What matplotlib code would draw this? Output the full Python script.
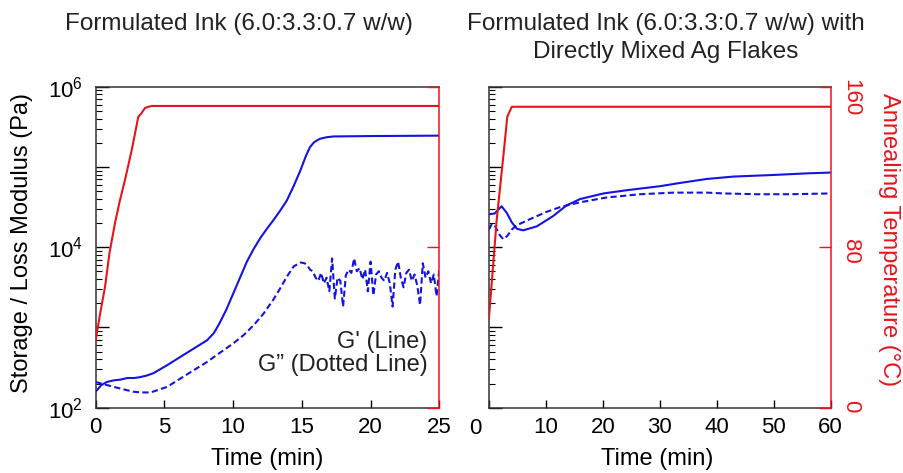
import numpy as np
import matplotlib
matplotlib.use("Agg")
import matplotlib.pyplot as plt
from matplotlib.ticker import LogLocator, FixedLocator, NullFormatter
import matplotlib.transforms as mtransforms

plt.rcParams['font.family'] = ['Liberation Sans', 'DejaVu Sans']
plt.rcParams['mathtext.fontset'] = 'custom'
plt.rcParams['mathtext.rm'] = 'Liberation Sans'

RED = '#e8141c'
BLUE = '#1414e0'

# ---- left panel: formulated ink, 0-25 min ----
t_temp_a = [0.0, 0.3, 0.68, 1.0, 1.4, 1.75, 2.13, 2.62, 3.1, 3.3, 3.6, 4.07, 25.0]
temp_a = [33.7, 46.0, 60.3, 77.0, 91.9, 103.0, 113.5, 128.4, 145.0, 146.5, 149.5,
          150.4, 150.4]

t_g1_a = [0.0, 0.4, 0.8, 1.3, 1.8, 2.3, 2.8, 3.2, 3.7, 4.2, 5.2, 6.6, 8.1, 8.6, 9.0,
          9.5, 10.0, 10.5, 11.0, 11.5, 12.0, 12.5, 12.9, 13.4, 13.9, 14.4, 14.9, 15.3,
          15.6, 15.9, 16.3, 16.8, 17.3, 20.0, 25.0]
g1_a_log = [2.20, 2.28, 2.32, 2.34, 2.35, 2.37, 2.37, 2.38, 2.40, 2.43, 2.53, 2.68,
            2.84, 2.93, 3.05, 3.22, 3.42, 3.62, 3.82, 3.98, 4.12, 4.24, 4.33, 4.45,
            4.58, 4.76, 4.96, 5.14, 5.25, 5.31, 5.35, 5.37, 5.38, 5.385, 5.39]

t_g2_a = [0.0, 1.3, 2.7, 3.3, 4.0, 5.2, 6.6, 8.1, 9.0, 10.0, 10.8, 11.5, 12.2, 12.9,
          13.4, 13.9, 14.4, 14.9,
          15.2, 15.4, 15.6, 15.8, 16.0, 16.2, 16.4, 16.6, 16.8, 17.0, 17.2, 17.4,
          17.6, 17.8, 18.0, 18.2, 18.4, 18.6, 18.8, 19.0, 19.2, 19.4, 19.6, 19.8,
          20.0, 20.2, 20.4, 20.6, 20.8, 21.0, 21.2, 21.4, 21.6, 21.8, 22.0, 22.2,
          22.4, 22.6, 22.8, 23.0, 23.2, 23.4, 23.6, 23.8, 24.0, 24.2, 24.4, 24.6,
          24.8, 25.0]
g2_a_log = [2.32, 2.26, 2.20, 2.19, 2.19, 2.26, 2.41, 2.57, 2.68, 2.80, 2.91, 3.03,
            3.17, 3.34, 3.48, 3.63, 3.76, 3.81,
            3.80, 3.77, 3.72, 3.70, 3.62, 3.58, 3.68, 3.55, 3.62, 3.45, 3.86, 3.36,
            3.62, 3.58, 3.26, 3.65, 3.72, 3.68, 3.86, 3.70, 3.74, 3.60, 3.72, 3.45,
            3.82, 3.40, 3.66, 3.70, 3.62, 3.58, 3.68, 3.55, 3.26, 3.72, 3.82, 3.62,
            3.50, 3.68, 3.72, 3.58, 3.66, 3.52, 3.28, 3.80, 3.62, 3.70, 3.55, 3.66,
            3.39, 3.72]

# ---- right panel: with directly mixed Ag flakes, 0-60 min ----
t_temp_b = [0.0, 1.35, 2.51, 3.21, 4.0, 60.0]
temp_b = [45.0, 93.6, 125.1, 145.0, 150.0, 150.0]

t_g1_b = [0.0, 1.0, 2.2, 3.1, 4.0, 4.9, 6.0, 8.4, 11.3, 13.6, 16.0, 20.1, 24.2,
          30.0, 33.5, 38.2, 42.9, 49.9, 55.8, 60.0]
g1_b_log = [4.41, 4.42, 4.51, 4.43, 4.31, 4.23, 4.21, 4.26, 4.39, 4.52, 4.60, 4.67,
            4.71, 4.76, 4.80, 4.85, 4.88, 4.90, 4.92, 4.93]

t_g2_b = [0.0, 0.5, 1.0, 1.9, 2.5, 3.2, 4.0, 4.8, 7.2, 10.1, 12.5, 16.0, 20.7,
          26.5, 32.4, 38.2, 41.2, 47.0, 52.9, 60.0]
g2_b_log = [4.22, 4.29, 4.27, 4.15, 4.10, 4.14, 4.22, 4.27, 4.35, 4.44, 4.50, 4.56,
            4.62, 4.66, 4.68, 4.68, 4.67, 4.66, 4.66, 4.67]

W, H = 904, 473
fig = plt.figure(figsize=(W / 100, H / 100), dpi=100)


def box(x0, x1, y0, y1):
    return [x0 / W, 1 - y1 / H, (x1 - x0) / W, (y1 - y0) / H]


def setup(ax, tw, xmax, xticks, right_labels):
    ax.set_yscale('log')
    ax.set_ylim(1e2, 1e6)
    ax.set_xlim(0, xmax)
    ax.set_xticks(xticks)
    ax.yaxis.set_major_locator(LogLocator(base=10, numticks=10))
    ax.yaxis.set_minor_locator(LogLocator(base=10, subs=np.arange(2, 10), numticks=20))
    ax.yaxis.set_minor_formatter(NullFormatter())
    ax.tick_params(axis='x', direction='in', length=6, width=1, labelsize=16, pad=7)
    ax.tick_params(axis='y', which='major', direction='in', length=9, width=1,
                   labelsize=16, pad=9)
    ax.tick_params(axis='y', which='minor', direction='in', length=4, width=0.8)
    for s in ax.spines.values():
        s.set_linewidth(1.1)
        s.set_color('#333333')
    ax.spines['right'].set_visible(False)
    tw.set_ylim(0, 160)
    tw.set_yticks([0, 80, 160])
    for k in ['left', 'top', 'bottom']:
        tw.spines[k].set_visible(False)
    tw.spines['right'].set_color(RED)
    tw.spines['right'].set_linewidth(1.1)
    tw.tick_params(axis='y', direction='in', length=9, width=1, color=RED,
                   labelcolor=RED, labelsize=16, labelrotation=-90, pad=7,
                   labelright=right_labels)


# left panel
ax1 = fig.add_axes(box(95.7, 439.3, 86.7, 407.7))
tw1 = ax1.twinx()
setup(ax1, tw1, 25, [0, 5, 10, 15, 20, 25], False)
ax1.yaxis.set_major_locator(FixedLocator([1e2, 1e3, 1e4, 1e5, 1e6]))
ax1.set_yticklabels([r'$\mathregular{10^{2}}$', '', r'$\mathregular{10^{4}}$', '',
                     r'$\mathregular{10^{6}}$'])
ax1.plot(t_g1_a, np.power(10.0, g1_a_log), color=BLUE, lw=1.5)
ax1.plot(t_g2_a, np.power(10.0, g2_a_log), color=BLUE, lw=1.5, ls=(0, (3, 1.6)))
tw1.plot(t_temp_a, temp_a, color=RED, lw=1.5)
ax1.text(0.965, 0.205, "G' (Line)", transform=ax1.transAxes, ha='right', va='center',
         fontsize=17, color='#222222')
ax1.text(0.965, 0.133, "G\u201d (Dotted Line)", transform=ax1.transAxes, ha='right',
         va='center', fontsize=17, color='#222222')

# right panel
ax2 = fig.add_axes(box(489, 830.7, 86.7, 407.7))
tw2 = ax2.twinx()
setup(ax2, tw2, 60, [0, 10, 20, 30, 40, 50, 60], True)
ax2.set_yticklabels([])
ax2.set_xticklabels(['', '10', '20', '30', '40', '50', '60'])
tr = mtransforms.blended_transform_factory(ax2.transData, ax2.transAxes)
ax2.text(-2.45, -0.033, '0', transform=tr, ha='center', va='top', fontsize=16)
ax2.plot(t_g1_b, np.power(10.0, g1_b_log), color=BLUE, lw=1.5)
ax2.plot(t_g2_b, np.power(10.0, g2_b_log), color=BLUE, lw=1.5, ls=(0, (3, 1.6)))
tw2.plot(t_temp_b, temp_b, color=RED, lw=1.5)

# titles and axis labels
fig.text(239 / W, 1 - 24 / H, 'Formulated Ink (6.0:3.3:0.7 w/w)', ha='center',
         va='center', fontsize=17.5, color='#222222')
fig.text(666 / W, 1 - 24 / H, 'Formulated Ink (6.0:3.3:0.7 w/w) with', ha='center',
         va='center', fontsize=17.5, color='#222222')
fig.text(666 / W, 1 - 52 / H, 'Directly Mixed Ag Flakes', ha='center',
         va='center', fontsize=17.5, color='#222222')
fig.text(267.5 / W, 1 - 459 / H, 'Time (min)', ha='center', va='center', fontsize=17)
fig.text(657 / W, 1 - 459 / H, 'Time (min)', ha='center', va='center', fontsize=17)
fig.text(22.5 / W, 1 - 243 / H, 'Storage / Loss Modulus (Pa)', rotation=90,
         ha='center', va='center', fontsize=17)
fig.text(889 / W, 1 - 240 / H, 'Annealing Temperature (\u00b0C)', rotation=-90,
         ha='center', va='center', fontsize=17, color=RED)

fig.savefig('out.png', dpi=100)
